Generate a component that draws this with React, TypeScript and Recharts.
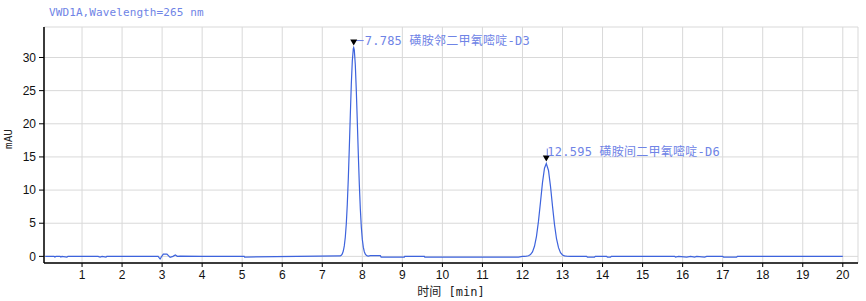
import React from 'react';
import { ComposedChart, Line, Scatter, XAxis, YAxis, CartesianGrid } from 'recharts';

const times: number[] = [
  0.08, 0.3, 0.32, 0.35, 0.45, 0.47, 0.5, 0.62, 0.65, 1.0, 1.4, 1.45, 1.5, 1.6, 1.62, 2.0, 2.9, 2.95, 2.98,
  3.03, 3.12, 3.2, 3.27, 3.33, 3.38, 3.45, 4.0, 5.05, 5.06,
  7.45, 7.475, 7.5, 7.525, 7.55, 7.575, 7.6, 7.625, 7.65, 7.675, 7.7, 7.725, 7.75, 7.775, 7.785,
  7.8, 7.825, 7.85, 7.875, 7.9, 7.925, 7.95, 7.975, 8.0, 8.025, 8.05, 8.075, 8.1, 8.125, 8.15,
  8.2, 8.45, 8.47, 9.05, 9.06, 9.55, 9.56, 11.9,
  12.0, 12.05, 12.1, 12.15, 12.2, 12.25, 12.3, 12.35, 12.4, 12.45, 12.5, 12.55, 12.595,
  12.65, 12.7, 12.75, 12.8, 12.85, 12.9, 12.95, 13.0, 13.05, 13.1, 13.2,
  13.6, 13.62, 13.8, 13.82, 14.1, 14.12, 14.2, 14.22, 15.8, 15.82, 15.9, 16.1, 16.2, 16.3, 16.35,
  16.55, 16.6, 17.0, 17.02, 17.35, 17.37, 20.0,
];

const signal: number[] = [
  0, 0, -0.1, 0, 0, -0.1, 0, -0.1, 0, 0, 0, -0.1, 0, -0.1, 0, 0, 0, -0.4, -0.1,
  0.35, 0.35, -0.15, 0, 0.2, 0, 0.05, 0, 0, -0.1,
  0.07, 0.17, 0.38, 0.8, 1.58, 2.88, 4.93, 7.86, 11.72, 16.33, 21.29, 25.92, 29.47, 31.33, 31.5,
  31.12, 28.9, 25.0, 20.3, 15.4, 10.9, 7.2, 4.44, 2.56, 1.39, 0.7, 0.33, 0.15, 0.07, 0.03,
  0.1, 0.1, -0.1, -0.1, 0, 0, -0.1, -0.1,
  0.0, 0.01, 0.03, 0.09, 0.26, 0.67, 1.52, 3.03, 5.31, 8.19, 11.12, 13.3, 14.0,
  12.96, 10.57, 7.58, 4.79, 2.66, 1.31, 0.56, 0.21, 0.08, 0.03, 0,
  0, -0.1, -0.1, 0, 0, -0.1, -0.1, 0, 0, -0.1, 0, -0.1, 0, -0.1, 0,
  -0.1, 0, 0, -0.1, -0.1, 0, 0,
];

const peakTimes: number[] = [7.785, 12.595];
const peakHeights: number[] = [31.5, 14.0];
const peakLabels: string[] = ['7.785 磺胺邻二甲氧嘧啶-D3', '12.595 磺胺间二甲氧嘧啶-D6'];
const peakLabelStyle: string[] = ['side', 'top'];

const xTicks: number[] = [1, 2, 3, 4, 5, 6, 7, 8, 9, 10, 11, 12, 13, 14, 15, 16, 17, 18, 19, 20];
const yTicks: number[] = [0, 5, 10, 15, 20, 25, 30];

const title = 'VWD1A,Wavelength=265 nm';
const xLabel = '时间 [min]';
const yLabel = 'mAU';

const chartData = times.map((t, i) => ({ t, v: signal[i] }));
const peakData = peakTimes.map((t, i) => ({ t, v: peakHeights[i], label: peakLabels[i], kind: peakLabelStyle[i] }));

const X_DOMAIN: [number, number] = [0.05, 20.38];
const Y_DOMAIN: [number, number] = [-1.0, 34.6];

const MONO = "'DejaVu Sans Mono', 'Noto Sans CJK SC', monospace";
const TICK_FONT = "'Liberation Sans', Arial, sans-serif";
const LABEL_COLOR = '#6f84e6';

const PeakMarker = (props: any) => {
  const { cx, cy, payload } = props;
  if (cx == null || cy == null) return null;
  const tri = `${cx - 3.5},${cy - 8} ${cx + 3.5},${cy - 8} ${cx},${cy - 2}`;
  if (payload.kind === 'side') {
    return (
      <g>
        <line x1={cx} y1={cy - 7} x2={cx + 10} y2={cy - 7} stroke={LABEL_COLOR} strokeWidth={1} />
        <polygon points={tri} fill="#000" />
        <text x={cx + 11} y={cy - 6} fontFamily={MONO} fontSize={12} letterSpacing={0.25} fill={LABEL_COLOR} dominantBaseline="middle">
          {payload.label}
        </text>
      </g>
    );
  }
  return (
    <g>
      <line x1={cx + 1} y1={cy - 8} x2={cx + 1} y2={cy - 15} stroke={LABEL_COLOR} strokeWidth={1} />
      <polygon points={tri} fill="#000" />
      <text x={cx + 1} y={cy - 11} fontFamily={MONO} fontSize={12} letterSpacing={0.25} fill={LABEL_COLOR} dominantBaseline="middle">
        {payload.label}
      </text>
    </g>
  );
};

const XLabel = (props: any) => {
  const vb = props.viewBox || {};
  return (
    <text x={vb.x + vb.width / 2} y={292} textAnchor="middle" dominantBaseline="middle" fontFamily={MONO} fontSize={12} fill="#222">
      {xLabel}
    </text>
  );
};

const YLabel = (props: any) => {
  const vb = props.viewBox || {};
  const cy = vb.y + vb.height / 2 - 6;
  return (
    <text x={9} y={cy} transform={`rotate(-90, 9, ${cy})`} textAnchor="middle" dominantBaseline="middle" fontFamily={MONO} fontSize={11} fill="#222">
      {yLabel}
    </text>
  );
};

export default function App() {
  return (
    <div style={{ position: 'absolute', left: 0, top: 0, width: 866, height: 301, background: '#fff' }}>
      <div
        style={{
          position: 'absolute',
          left: 49,
          top: 6,
          fontFamily: MONO,
          fontSize: 11,
          letterSpacing: '0.1px',
          color: LABEL_COLOR,
          whiteSpace: 'pre',
          lineHeight: '14px',
        }}
      >
        {title}
      </div>
      <ComposedChart width={866} height={301} data={chartData} margin={{ top: 27, right: 8, left: 0, bottom: 0 }}>
        <CartesianGrid stroke="#d9d9d9" strokeWidth={1} />
        <XAxis
          dataKey="t"
          type="number"
          domain={X_DOMAIN}
          allowDataOverflow
          ticks={xTicks}
          interval={0}
          height={38}
          tickSize={4}
          tickMargin={3}
          axisLine={{ stroke: '#000', strokeWidth: 1.5 }}
          tickLine={{ stroke: '#000' }}
          tick={{ fill: '#111', fontSize: 12, fontFamily: TICK_FONT }}
          label={<XLabel />}
        />
        <XAxis
          xAxisId="top"
          orientation="top"
          type="number"
          domain={X_DOMAIN}
          allowDataOverflow
          height={0}
          tick={false}
          tickLine={false}
          axisLine={{ stroke: '#000', strokeWidth: 1.5 }}
        />
        <YAxis
          type="number"
          domain={Y_DOMAIN}
          allowDataOverflow
          ticks={yTicks}
          interval={0}
          width={44}
          tickSize={5}
          tickMargin={3}
          axisLine={{ stroke: '#000', strokeWidth: 1.5 }}
          tickLine={{ stroke: '#000' }}
          tick={{ fill: '#111', fontSize: 12, fontFamily: TICK_FONT }}
          label={<YLabel />}
        />
        <YAxis
          yAxisId="right"
          orientation="right"
          type="number"
          domain={Y_DOMAIN}
          allowDataOverflow
          width={0}
          tick={false}
          tickLine={false}
          axisLine={{ stroke: '#000', strokeWidth: 1.5 }}
        />
        <Line
          dataKey="v"
          type="linear"
          stroke="#3d63dd"
          strokeWidth={1.2}
          dot={false}
          activeDot={false}
          isAnimationActive={false}
        />
        <Scatter data={peakData} dataKey="v" shape={<PeakMarker />} isAnimationActive={false} />
      </ComposedChart>
    </div>
  );
}
